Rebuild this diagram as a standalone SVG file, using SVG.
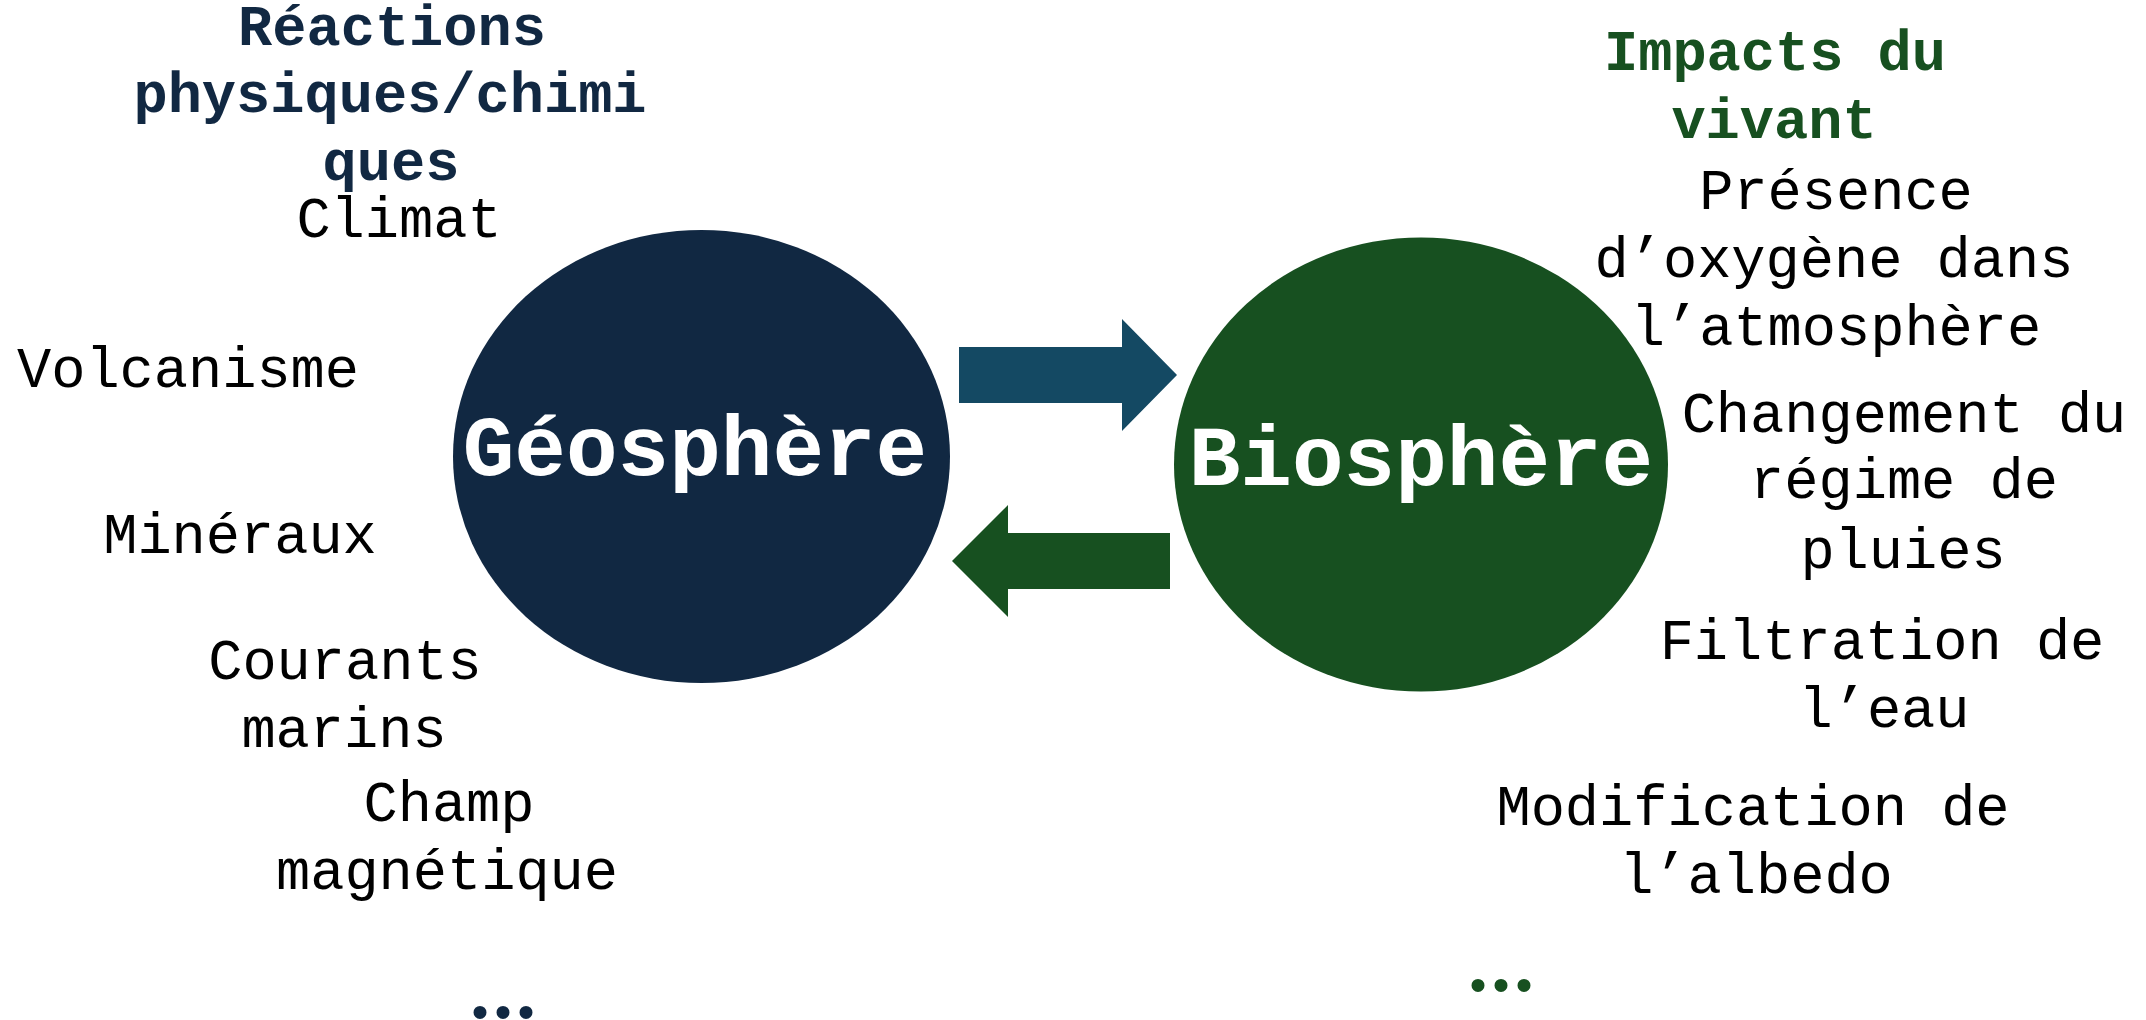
<svg xmlns="http://www.w3.org/2000/svg" width="2146" height="1020" viewBox="0 0 2146 1020">
<style>
text{font-family:"Liberation Mono","Courier New",monospace;text-anchor:middle;}
.body{font-size:57px;fill:#000;}
.ttl{font-size:57px;font-weight:bold;}
.navy{fill:#112842;}
.green{fill:#175020;}
.big{font-size:86px;font-weight:bold;fill:#fff;}
.dots{font-family:"Liberation Serif","Times New Roman",serif;font-size:80px;font-weight:bold;letter-spacing:3px;text-anchor:start;}
</style>
<rect width="2146" height="1020" fill="#fff"/>
<g id="connectors">
<path d="M959,347 H1122 V319 L1177,375 L1122,431 V403 H959 Z" fill="#144963"/>
<path d="M1170,533 H1008 V505 L952,561 L1008,617 V589 H1170 Z" fill="#175020"/>
</g>
<g id="geosphere">
<ellipse cx="701.5" cy="456.5" rx="248.5" ry="226.5" class="navy"/>
<text x="695" y="475" class="big">Géosphère</text>
</g>
<g id="biosphere">
<ellipse cx="1421" cy="464.5" rx="247" ry="227" class="green"/>
<text x="1421" y="485" class="big">Biosphère</text>
</g>
<g id="geo-labels">
<text class="ttl navy" x="392" y="45">Réactions</text>
<text class="ttl navy" x="390" y="112">physiques/chimi</text>
<text class="ttl navy" x="391" y="180">ques</text>
<text class="body" x="399" y="237">Climat</text>
<text class="body" x="188" y="387">Volcanisme</text>
<text class="body" x="240" y="553">Minéraux</text>
<text class="body" x="345" y="679">Courants</text>
<text class="body" x="344" y="747">marins</text>
<text class="body" x="449" y="821">Champ</text>
<text class="body" x="447" y="889">magnétique</text>
<text class="dots navy" x="470" y="1018">...</text>
</g>
<g id="bio-labels">
<text class="ttl green" x="1775" y="70">Impacts du</text>
<text class="ttl green" x="1774" y="138">vivant</text>
<text class="body" x="1836" y="209">Présence</text>
<text class="body" x="1834" y="277">d’oxygène dans</text>
<text class="body" x="1836" y="345">l’atmosphère</text>
<text class="body" x="1904" y="432">Changement du</text>
<text class="body" x="1904" y="498">régime de</text>
<text class="body" x="1903" y="568">pluies</text>
<text class="body" x="1882" y="659">Filtration de</text>
<text class="body" x="1884" y="727">l’eau</text>
<text class="body" x="1753" y="825">Modification de</text>
<text class="body" x="1756" y="893">l’albedo</text>
<text class="dots green" x="1468" y="991">...</text>
</g>
</svg>
